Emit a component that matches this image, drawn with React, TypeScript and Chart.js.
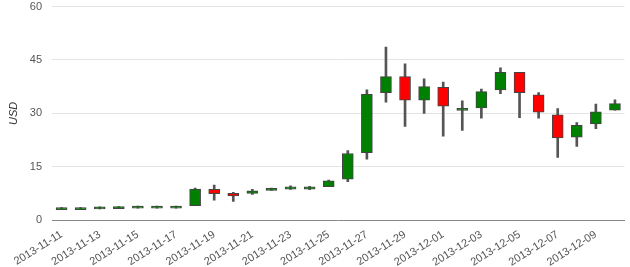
import React, { useEffect, useRef } from "react";
import { Chart, registerables } from "chart.js";

Chart.register(...registerables);

const dates = [
  "2013-11-11", "2013-11-12", "2013-11-13", "2013-11-14", "2013-11-15",
  "2013-11-16", "2013-11-17", "2013-11-18", "2013-11-19", "2013-11-20",
  "2013-11-21", "2013-11-22", "2013-11-23", "2013-11-24", "2013-11-25",
  "2013-11-26", "2013-11-27", "2013-11-28", "2013-11-29", "2013-11-30",
  "2013-12-01", "2013-12-02", "2013-12-03", "2013-12-04", "2013-12-05",
  "2013-12-06", "2013-12-07", "2013-12-08", "2013-12-09", "2013-12-10",
];
const openPrices = [
  2.9, 2.9, 3.1, 3.2, 3.3, 3.3, 3.3, 4.0, 8.6, 7.5,
  7.5, 8.3, 8.7, 8.7, 9.4, 11.5, 18.9, 35.8, 40.3, 33.7,
  37.3, 30.8, 31.5, 36.6, 41.5, 35.2, 29.6, 23.3, 27.0, 30.9,
];
const closePrices = [
  3.5, 3.5, 3.7, 3.8, 3.9, 3.9, 3.9, 8.7, 7.4, 6.8,
  8.2, 8.9, 9.3, 9.3, 11.0, 18.7, 35.3, 40.3, 33.7, 37.5,
  32.0, 31.4, 36.1, 41.5, 35.8, 30.3, 23.1, 26.6, 30.4, 32.7,
];
const highPrices = [
  3.5, 3.5, 3.7, 3.8, 3.9, 3.9, 3.9, 9.0, 9.8, 7.8,
  8.6, 9.0, 9.6, 9.5, 11.2, 19.5, 36.6, 48.6, 43.9, 39.7,
  38.8, 33.5, 36.8, 42.8, 41.5, 35.8, 31.3, 27.4, 32.6, 33.8,
];
const lowPrices = [
  2.9, 2.9, 3.1, 3.2, 3.3, 3.3, 3.3, 4.0, 5.6, 5.2,
  7.2, 8.3, 8.6, 8.5, 9.4, 10.8, 17.1, 33.1, 26.3, 30.0,
  23.6, 25.2, 28.6, 35.5, 28.8, 28.6, 17.6, 20.7, 25.7, 30.9,
];
const yTicks = [0, 15, 30, 45, 60];

export default function App() {
  const ref = useRef<HTMLCanvasElement | null>(null);
  useEffect(() => {
    document.body.style.margin = "0";
    const ctx = ref.current!;
    const bodyColors = dates.map((_, i) =>
      closePrices[i] >= openPrices[i] ? "#008000" : "#ff0000"
    );
    const chart = new Chart(ctx, {
      type: "bar",
      data: {
        labels: dates,
        datasets: [
          {
            label: "body",
            data: dates.map((_, i) => [openPrices[i], closePrices[i]]) as any,
            backgroundColor: bodyColors,
            borderColor: "#444444",
            borderWidth: 1,
            borderSkipped: false,
            barThickness: 11,
            grouped: false,
            order: 1,
          } as any,
          {
            label: "wick",
            data: dates.map((_, i) => [lowPrices[i], highPrices[i]]) as any,
            backgroundColor: "#555555",
            borderWidth: 0,
            barThickness: 2,
            grouped: false,
            order: 2,
          } as any,
        ],
      },
      options: {
        animation: false,
        responsive: true,
        maintainAspectRatio: false,
        layout: { padding: { top: 0, right: 3, left: 7, bottom: 0 } },
        plugins: {
          legend: { display: false },
          tooltip: { enabled: false },
        },
        scales: {
          x: {
            offset: true,
            grid: { display: false, drawTicks: false },
            border: { display: true, color: "#888888", width: 1 },
            afterFit: (s: any) => {
              s.height = 47;
            },
            ticks: {
              autoSkip: false,
              minRotation: 32,
              maxRotation: 32,
              color: "#555555",
              font: { family: "Liberation Sans, Arial", size: 11 },
              padding: 8,
              callback: (_v: any, i: number) => (i % 2 === 0 ? dates[i] : ""),
            },
          },
          y: {
            min: 0,
            max: 60,
            afterBuildTicks: (axis: any) => {
              axis.ticks = yTicks.map((v) => ({ value: v }));
            },
            afterFit: (s: any) => {
              s.width = 45;
            },
            grid: { color: "#e4e4e4", lineWidth: 1, drawTicks: false },
            border: { display: false },
            ticks: {
              color: "#555555",
              font: { family: "Liberation Sans, Arial", size: 11 },
              padding: 10,
            },
            title: {
              display: true,
              text: "USD",
              color: "#333333",
              font: { family: "Liberation Sans, Arial", size: 11, style: "italic" },
              padding: { top: 0, bottom: 6 },
            },
          },
        },
      },
    });
    return () => chart.destroy();
  }, []);
  return (
    <div style={{ position: "absolute", left: 0, top: -10, width: 630, height: 277 }}>
      <canvas ref={ref} />
    </div>
  );
}
